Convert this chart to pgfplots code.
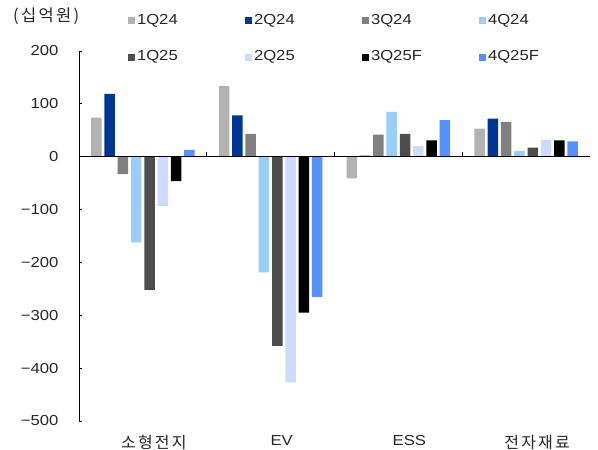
\documentclass[border=0pt]{standalone}
\usepackage{fontspec}
\setmainfont{Liberation Sans}[FakeStretch=1.15]
\newfontfamily\kr{Noto Sans CJK KR}[LetterSpace=14]
\usepackage{pgfplots}
\pgfplotsset{compat=1.18}

\definecolor{c1}{HTML}{B2B2B2}
\definecolor{c2}{HTML}{003594}
\definecolor{c3}{HTML}{808080}
\definecolor{c4}{HTML}{99CCFF}
\definecolor{c5}{HTML}{4D4D4D}
\definecolor{c6}{HTML}{CCDCFF}
\definecolor{c7}{HTML}{000000}
\definecolor{c8}{HTML}{5591FF}

\begin{document}
\begin{tikzpicture}
\begin{axis}[
  scale only axis,
  clip=false,
  width=511bp, height=370bp,
  ybar=2.8bp, bar width=10.5bp,
  xmin=-0.5, xmax=3.5,
  ymin=-500, ymax=200,
  ytick={-500,-400,...,200},
  yticklabels={−500,−400,−300,−200,−100,0,100,200},
  xtick={0,1,2,3},
  xticklabels={{\kr\fontsize{16bp}{18bp}\selectfont 소형전지},EV,ESS,{\kr\fontsize{16bp}{18bp}\selectfont 전자재료}},
  axis y line=left,
  axis x line=bottom,
  axis line style={-, black, line width=0.8bp},
  x axis line style={draw=none},
  xtick style={draw=none},
  ytick style={black, line width=0.8bp},
  tick align=inside,
  major tick length=3.5bp,
  ticklabel style={font=\fontsize{14.5bp}{17bp}\selectfont, text=black!85},
  yticklabel style={xshift=-17bp},
  xticklabel style={xshift=11bp, yshift=-11bp},
  legend columns=4,
  legend style={draw=none, fill=none, inner sep=0pt, outer sep=0pt,
    anchor=north west, at={(axis description cs:0.0959,1.1)},
    font=\fontsize{14.5bp}{17bp}\selectfont, text=black!85,
    row sep=25bp,
    nodes={inner sep=0pt, text width=108bp, align=left},
    /tikz/every odd column/.append style={column sep=2bp}},
  legend image code/.code={\fill[#1] (0bp,-4.5bp) rectangle (7bp,2.5bp);},
]
\addplot[fill=c1, draw=none] coordinates {(0,74) (1,134) (2,-41) (3,53)};
\addplot[fill=c2, draw=none] coordinates {(0,119) (1,78) (2,2) (3,72)};
\addplot[fill=c3, draw=none] coordinates {(0,-33) (1,43) (2,42) (3,66)};
\addplot[fill=c4, draw=none] coordinates {(0,-162) (1,-219) (2,85) (3,11)};
\addplot[fill=c5, draw=none] coordinates {(0,-252) (1,-358) (2,43) (3,17)};
\addplot[fill=c6, draw=none] coordinates {(0,-93) (1,-427) (2,20) (3,32)};
\addplot[fill=c7, draw=none] coordinates {(0,-46) (1,-295) (2,31) (3,31)};
\addplot[fill=c8, draw=none] coordinates {(0,13) (1,-265) (2,69) (3,29)};
\legend{1Q24,2Q24,3Q24,4Q24,1Q25,2Q25,3Q25F,4Q25F}
\draw[black, line width=0.8bp] (axis cs:-0.5,0) -- (axis cs:3.5,0);
\draw[black, line width=0.8bp] (axis cs:0.5,0) -- ([yshift=4.5bp]axis cs:0.5,0);
\draw[black, line width=0.8bp] (axis cs:1.5,0) -- ([yshift=4.5bp]axis cs:1.5,0);
\draw[black, line width=0.8bp] (axis cs:2.5,0) -- ([yshift=4.5bp]axis cs:2.5,0);
\coordinate (O) at (rel axis cs:0,0);
\coordinate (TL) at (rel axis cs:0,1);
\end{axis}
\node[anchor=west, inner sep=0pt, font=\kr\fontsize{16.5bp}{19bp}\selectfont, text=black!85] at ([xshift=-66bp, yshift=35bp]TL) {(십억원)};
\pgfresetboundingbox
\path[use as bounding box] (O) ++(-79bp,-29bp) rectangle ++(598bp,450bp);
\end{tikzpicture}
\end{document}
